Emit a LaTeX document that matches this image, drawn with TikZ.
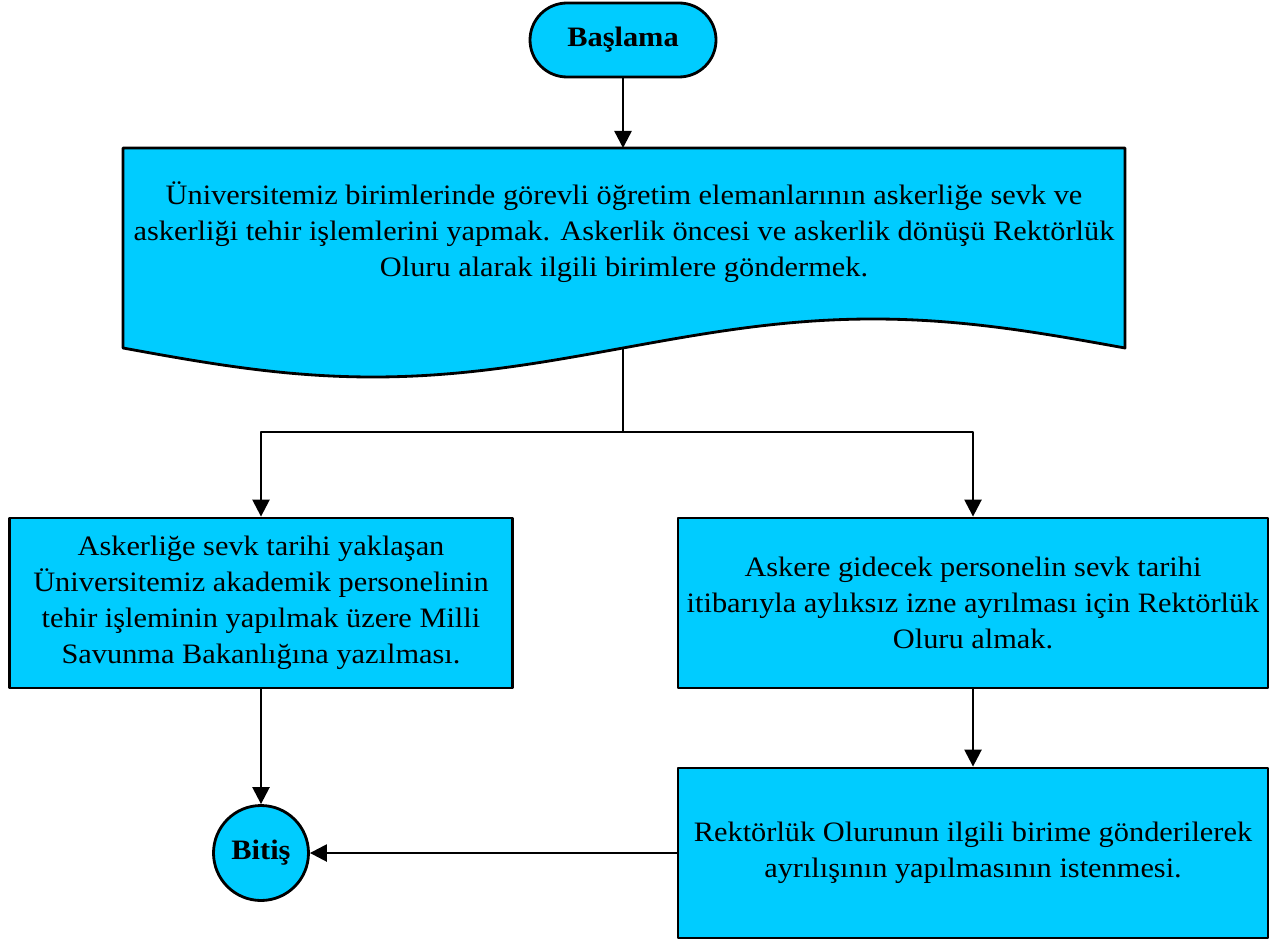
\documentclass[tikz,border=0pt]{standalone}
\usepackage{fontspec}
\setmainfont{Liberation Serif}[FakeStretch=1.08]
\usetikzlibrary{arrows.meta}
\definecolor{kutu}{HTML}{00CCFF}
\begin{document}
\begin{tikzpicture}[line join=round,>={Triangle[length=0.34cm,width=0.34cm]}]
	\tikzset{every node/.style={font=\fontsize{16}{20.5}\selectfont},
		kutu/.style={draw,line width=1.6pt,fill=kutu,align=center,minimum height=3.4cm},
		bag/.style={line width=1.4pt}}
	\useasboundingbox (0,0) rectangle (25.5,-18.86);
	% baslama
	\node[kutu,rounded corners=0.74cm,minimum width=3.72cm,minimum height=1.48cm,font=\fontsize{16}{20.5}\selectfont\bfseries] (basla) at (12.46,-0.8) {Başlama};
	% belge
	\draw[line width=1.6pt,fill=kutu] (2.46,-2.96)--(2.46,-6.96) sin (7.46,-7.54) cos (12.46,-6.96) sin (17.46,-6.38) cos (22.5,-6.96)--(22.5,-2.96)--cycle;
	\node[align=center] (belge) at (12.48,-4.64) {Üniversitemiz birimlerinde görevli öğretim elemanlarının askerliğe sevk ve\\ askerliği tehir işlemlerini yapmak. Askerlik öncesi ve askerlik dönüşü Rektörlük\\ Oluru alarak ilgili birimlere göndermek.};
	\coordinate (belgealt) at (12.46,-6.96);
	\coordinate (ayir) at (12.46,-8.64);
	\node[kutu,minimum width=10.06cm] (sol) at (5.22,-12.06) {Askerliğe sevk tarihi yaklaşan\\ Üniversitemiz akademik personelinin\\ tehir işleminin yapılmak üzere Milli\\ Savunma Bakanlığına yazılması.};
	\node[kutu,minimum width=11.8cm] (sag) at (19.46,-12.06) {Askere gidecek personelin sevk tarihi\\ itibarıyla aylıksız izne ayrılması için Rektörlük\\ Oluru almak.};
	\node[kutu,minimum width=11.8cm] (olur) at (19.46,-17.06) {Rektörlük Olurunun ilgili birime gönderilerek\\ ayrılışının yapılmasının istenmesi.};
	\node[kutu,circle,minimum size=1.9cm,inner sep=0pt,font=\fontsize{16}{20.5}\selectfont\bfseries] (bitis) at (5.22,-17.06) {Bitiş};
	% baglantilar
	\draw[bag,->] (basla)--(12.46,-2.96);
	\draw[bag] (belgealt)--(ayir);
	\draw[bag,->] (ayir)-|(sol.north);
	\draw[bag,->] (ayir)-|(sag.north);
	\draw[bag,->] (sol)--(bitis);
	\draw[bag,->] (sag)--(olur);
	\draw[bag,->] (olur)--(bitis);
\end{tikzpicture}
\end{document}
